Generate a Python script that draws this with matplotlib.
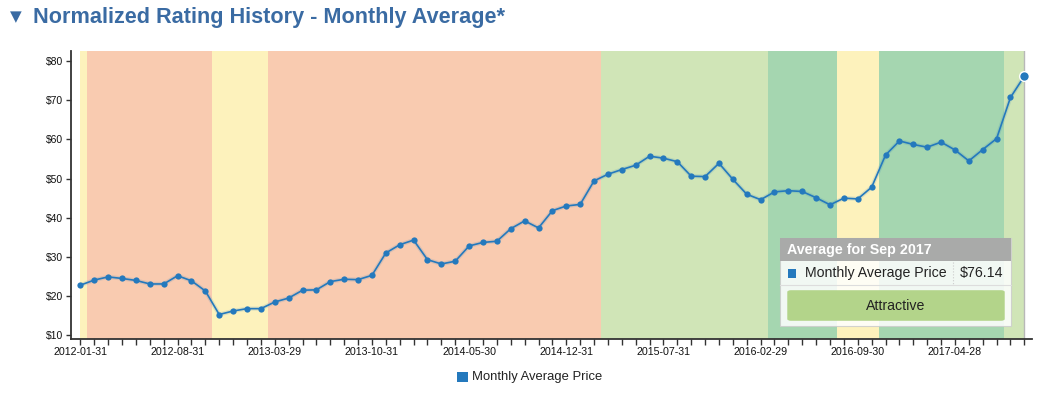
import numpy as np
import matplotlib
matplotlib.use("Agg")
import matplotlib.pyplot as plt
from matplotlib.patches import Rectangle, FancyBboxPatch

plt.rcParams['font.family'] = ['Liberation Sans', 'DejaVu Sans']

# monthly average price, Jan 2012 .. Sep 2017
prices = [22.8, 24.1, 24.9, 24.5, 24.0, 23.1, 23.1, 25.2, 23.9, 21.3,
          15.3, 16.2, 16.8, 16.8, 18.5, 19.5, 21.5, 21.6, 23.7, 24.3,
          24.2, 25.3, 31.0, 33.1, 34.3, 29.3, 28.2, 28.9, 32.8, 33.7,
          34.0, 37.2, 39.2, 37.4, 41.8, 43.0, 43.4, 49.4, 51.1, 52.3,
          53.4, 55.7, 55.2, 54.3, 50.6, 50.5, 53.9, 49.8, 46.0, 44.6,
          46.6, 46.9, 46.7, 45.1, 43.3, 45.0, 44.8, 47.8, 56.0, 59.6,
          58.7, 58.0, 59.3, 57.3, 54.5, 57.4, 60.2, 70.7, 76.14]

# rating of each month (runs)
rating_runs = [("Fair", 1), ("Unattractive", 9), ("Fair", 4), ("Unattractive", 24),
               ("Attractive", 12), ("Very Attractive", 5), ("Fair", 3),
               ("Very Attractive", 9), ("Attractive", 2)]
rating_colors = {"Unattractive": "#f9cbb0", "Fair": "#fdf2bc",
                 "Attractive": "#d0e5b7", "Very Attractive": "#a5d6b0"}

tick_labels = ["2012-01-31", "2012-08-31", "2013-03-29", "2013-10-31", "2014-05-30",
               "2014-12-31", "2015-07-31", "2016-02-29", "2016-09-30", "2017-04-28"]
y_ticks = [10, 20, 30, 40, 50, 60, 70, 80]

W, H = 1040, 396
fig = plt.figure(figsize=(W / 100, H / 100), dpi=100)
ax = fig.add_axes([70.7 / W, 1 - 338.7 / H, (1032 - 70.7) / W, (338.7 - 51) / H])

n = len(prices)
x = np.arange(n)

# background rating bands
start = 0
for name, count in rating_runs:
    left = max(start - 0.5, 0)
    right = min(start + count - 0.5, n - 1)
    ax.axvspan(left, right, color=rating_colors[name], lw=0, zorder=0)
    start += count

ax.axvline(n - 1, color="#b8b8b8", lw=1, zorder=1)

blue = "#2479bd"
ax.plot(x, prices, color=blue, lw=3, alpha=0.15, zorder=2)
ax.plot(x, prices, color=blue, lw=1.2, zorder=3)
ax.plot(x[:-1], prices[:-1], "o", color=blue, ms=4.5, mew=0, zorder=4)
ax.plot(x[-1], prices[-1], "o", color=blue, ms=7, mec="white", mew=1, zorder=5)

ax.set_xlim(-0.7, 68.55)
ax.set_ylim(9.13, 82.55)

ax.set_xticks(x[::7])
ax.set_xticklabels(tick_labels)
ax.set_xticks(x, minor=True)
ax.set_yticks(y_ticks)
ax.set_yticklabels([f"${v}" for v in y_ticks])

for s in ["top", "right"]:
    ax.spines[s].set_visible(False)
for s in ["left", "bottom"]:
    ax.spines[s].set_color("#333333")
    ax.spines[s].set_linewidth(1.3)

ax.tick_params(axis="x", which="both", length=4.5, width=1, color="#333333",
               labelsize=7.7, pad=1.5, labelcolor="#111111")
ax.tick_params(axis="y", length=3.5, width=1, color="#333333",
               labelsize=7.5, pad=2, labelcolor="#111111")


def fx(px):
    return px / W


def fy(py):
    return 1 - py / H


# title
fig.text(fx(16), fy(17), "\u25bc", fontsize=11, color="#3a6ba3", ha="center", va="center",
         family="DejaVu Sans")
fig.text(fx(33), fy(17), "Normalized Rating History - Monthly Average*", fontsize=15.6,
         fontweight="bold", color="#3a6ba3", ha="left", va="center")

# legend
fig.patches.append(Rectangle((fx(457), fy(382)), 11 / W, 10 / H, transform=fig.transFigure,
                             color=blue, lw=0))
fig.text(fx(472.5), fy(377), "Monthly Average Price", fontsize=9.4, color="#222222",
         ha="left", va="center")

# tooltip
fig.patches.append(Rectangle((fx(780), fy(326)), 231 / W, 88 / H, transform=fig.transFigure,
                             facecolor="white", alpha=0.85, edgecolor="#cccccc", lw=0.8,
                             zorder=10))
fig.patches.append(Rectangle((fx(780), fy(261)), 231 / W, 23 / H, transform=fig.transFigure,
                             facecolor="#a9aaa9", lw=0, zorder=11))
fig.text(fx(787), fy(250), "Average for Sep 2017", fontsize=10.3, fontweight="bold",
         color="white", ha="left", va="center", zorder=12)
fig.patches.append(Rectangle((fx(788), fy(278)), 8 / W, 9 / H, transform=fig.transFigure,
                             color=blue, lw=0, zorder=12))
fig.text(fx(805), fy(273), "Monthly Average Price", fontsize=10.2, color="#222222",
         ha="left", va="center", zorder=12)
fig.lines.append(plt.Line2D([fx(953), fx(953)], [fy(262), fy(284)], transform=fig.transFigure,
                            color="#cccccc", lw=0.8, ls=":", zorder=12))
fig.text(fx(1003), fy(273), "$76.14", fontsize=10.2, color="#222222",
         ha="right", va="center", zorder=12)
fig.lines.append(plt.Line2D([fx(780), fx(1011)], [fy(285), fy(285)], transform=fig.transFigure,
                            color="#dddddd", lw=0.8, zorder=12))
fig.patches.append(FancyBboxPatch((fx(791), fy(319)), 210 / W, 27 / H,
                                  boxstyle="round,pad=0.003", transform=fig.transFigure,
                                  facecolor="#b3d48a", edgecolor="#b3d48a", lw=0.8, zorder=12))
fig.text(fx(896), fy(305.5), "Attractive", fontsize=10.2, color="#222222",
         ha="center", va="center", zorder=13)

fig.savefig("out.png", dpi=100)
